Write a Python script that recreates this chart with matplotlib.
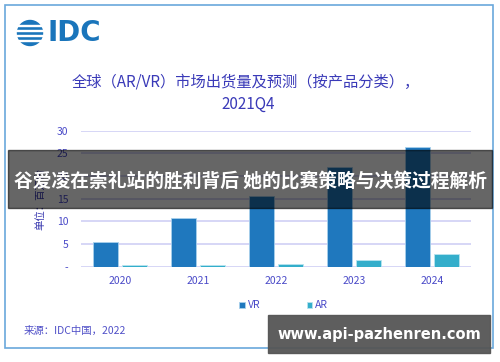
import matplotlib
matplotlib.use('Agg')
from matplotlib import pyplot as plt
from matplotlib.patches import Rectangle, Ellipse
import numpy as np

plt.rcParams['font.family'] = ['Noto Sans CJK SC', 'DejaVu Sans']

years = ['2020', '2021', '2022', '2023', '2024']
vr = [5.5, 10.8, 15.7, 22.0, 26.4]
ar = [0.3, 0.3, 0.7, 1.4, 2.8]
yticks = [0, 5, 10, 15, 20, 25, 30]
ytick_labels = ['-', '5', '10', '15', '20', '25', '30']

W, H = 500, 362
txt_col = '#4a4ac8'
vr_col = '#1f78be'
ar_col = '#34aecb'

def fx(px):
    return px / W

def fy(py):
    return 1 - py / H

fig = plt.figure(figsize=(5, 3.62), dpi=100)
fig.patch.set_facecolor('white')

# frame
fig.patches.append(Rectangle((fx(5), fy(348)), fx(488), (343) / H, transform=fig.transFigure,
                             fill=False, edgecolor='#6aa8dc', linewidth=1.2))

ax = fig.add_axes([fx(81), fy(266.7), fx(390), (266.7 - 130.7) / H])
x = np.arange(len(years))
w = 0.32
ax.bar(x - 0.186, vr, w, color=vr_col, edgecolor='#a8d0ec', linewidth=0.6, label='VR', zorder=3)
ax.bar(x + 0.186, ar, w, color=ar_col, edgecolor='#b8e4ef', linewidth=0.6, label='AR', zorder=3)
ax.set_xlim(-0.5, 4.5)
ax.set_ylim(0, 30)
ax.set_yticks(yticks)
ax.set_yticklabels(ytick_labels)
ax.set_xticks(x)
ax.set_xticklabels(years)
ax.grid(axis='y', color='#cfcff5', linewidth=1.2, zorder=0)
for s in ax.spines.values():
    s.set_visible(False)
ax.tick_params(length=0, colors=txt_col, labelsize=7.5)
ax.tick_params(axis='y', pad=9)
ax.tick_params(axis='x', pad=7)
ax.set_ylabel('单位：百万台', color='#3a3ab0', fontsize=7.5, labelpad=8)

leg = ax.legend(ncol=2, loc='center', bbox_to_anchor=(0.52, -0.285), frameon=False,
                handlelength=0.55, handleheight=0.55, columnspacing=4.4, handletextpad=0.3,
                fontsize=7.5, labelcolor=txt_col)

# IDC logo
logo_col = '#1a75bb'
fig.patches.append(Ellipse((fx(30), fy(33)), fx(25), 25 / H, transform=fig.transFigure, color=logo_col))
for yy in [25.5, 30.5, 35.5, 40.5]:
    fig.patches.append(Rectangle((fx(16), fy(yy + 0.9)), fx(30), 1.8 / H, transform=fig.transFigure,
                                 color='white', zorder=5))
fig.text(fx(47), fy(33), 'IDC', fontsize=20, fontweight='bold', color=logo_col,
         family='DejaVu Sans', va='center', ha='left')

# title
fig.text(fx(246), fy(82), '全球（AR/VR）市场出货量及预测（按产品分类），', fontsize=11,
         color='#3a3ab8', ha='center', va='center')
fig.text(fx(248), fy(104), '2021Q4', fontsize=11, color='#3a3ab8', ha='center', va='center')

# source
fig.text(fx(24), fy(331), '来源：IDC中国，2022', fontsize=7.5, color='#5050c8', ha='left', va='center')

# overlay band
fig.patches.append(Rectangle((fx(8), fy(208)), fx(484), 58 / H, transform=fig.transFigure,
                             color='black', alpha=0.6, zorder=10))
fig.text(fx(250), fy(181), '谷爱凌在崇礼站的胜利背后 她的比赛策略与决策过程解析', fontsize=13.5,
         fontweight='bold', color='white', ha='center', va='center', zorder=11)

# watermark
fig.patches.append(Rectangle((fx(268), fy(353)), fx(222), 38 / H, transform=fig.transFigure,
                             color='#555555', alpha=0.95, zorder=10))
fig.text(fx(379), fy(335), 'www.api-pazhenren.com', fontsize=10.5, fontweight='bold',
         color='white', ha='center', va='center', family='DejaVu Sans', zorder=11)

fig.savefig('out.png', dpi=100)
